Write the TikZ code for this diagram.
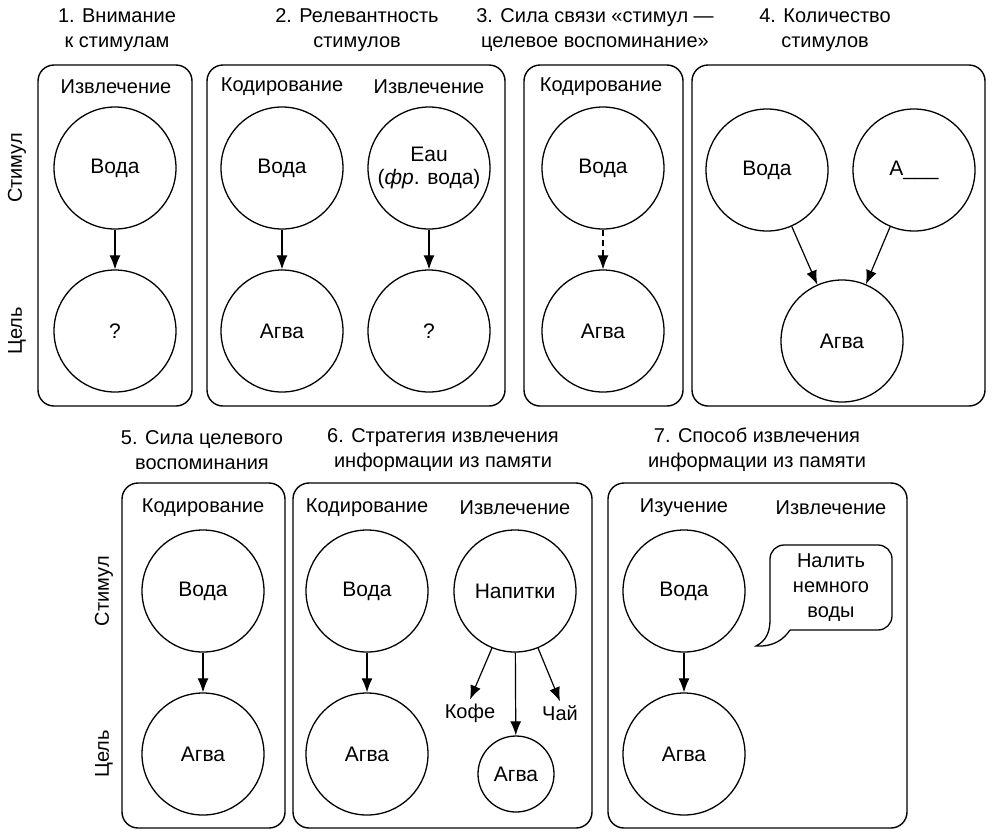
\documentclass[tikz,border=0pt]{standalone}
\usepackage{fontspec}
\setmainfont{Liberation Sans}
\usetikzlibrary{arrows.meta,positioning}
\tikzset{
  panel/.style = {draw, line width=1.4pt, rounded corners=16pt},
  stim/.style  = {circle, draw, line width=1.3pt, minimum size=122pt, inner sep=0pt,
                  align=center, font=\fontsize{21}{23}\selectfont},
  small/.style = {stim, minimum size=76pt},
  head/.style  = {inner sep=1pt, font=\fontsize{20}{24}\selectfont},
  title/.style = {align=center, font=\fontsize{20}{25}\selectfont},
  side/.style  = {rotate=90, font=\fontsize{20}{24}\selectfont},
  link/.style  = {->, line width=1.2pt}
}

\begin{document}
\begin{tikzpicture}[x=1pt, y=-1pt, >={Latex[length=14pt,width=11pt]}]
\useasboundingbox (0,0) rectangle (995,831);

% titles above the panels
\node[title] (ttl1) at (117,30)  {1. Внимание\\к стимулам};
\node[title] (ttl2) at (357,30)  {2. Релевантность\\стимулов};
\node[title] (ttl3) at (595,30)  {3. Сила связи «стимул —\\целевое воспоминание»};
\node[title] (ttl4) at (825,30)  {4. Количество\\стимулов};
\node[title] (ttl5) at (202,450) {5. Сила целевого\\воспоминания};
\node[title] (ttl6) at (443,450) {6. Стратегия извлечения\\информации из памяти};
\node[title] (ttl7) at (757,450) {7. Способ извлечения\\информации из памяти};

% panels
\draw[panel] (38,65)  rectangle (192,406);
\draw[panel] (207,65) rectangle (505,406);
\draw[panel] (524,65) rectangle (683,406);
\draw[panel] (692,65) rectangle (985,406);
\draw[panel] (122,483) rectangle (285,828);
\draw[panel] (293,483) rectangle (592,828);
\draw[panel] (608,483) rectangle (907,828);

% row labels
\node[side] (r1) at (17,168)  {Стимул};
\node[side] (r2) at (17,331)  {Цель};
\node[side] (r3) at (104,591) {Стимул};
\node[side] (r4) at (104,754) {Цель};

% headers
\node[head] (h1)  at (116,87)  {Извлечение};
\node[head] (h2)  at (282,87)  {Кодирование};
\node[head] (h2b) at (429,87)  {Извлечение};
\node[head] (h3)  at (601,87)  {Кодирование};
\node[head] (h5)  at (203,508) {Кодирование};
\node[head] (h6)  at (367,508) {Кодирование};
\node[head] (h6b) at (515,508) {Извлечение};
\node[head] (h7)  at (684,508) {Изучение};
\node[head] (h7b) at (831,508) {Извлечение};

% top row
\node[stim] (c1)  at (115,168) {Вода};
\node[stim] (c11) at (115,331) {?};
\node[stim] (c2)  at (282,168) {Вода};
\node[stim] (c21) at (282,331) {Агва};
\node[stim] (c2b) at (429,168) {Eau\\(\textit{фр}. вода)};
\node[stim] (c2c) at (429,331) {?};
\node[stim] (c3)  at (603,168) {Вода};
\node[stim] (c31) at (603,331) {Агва};
\node[stim] (c4)  at (767,170) {Вода};
\node[stim] (c4b) at (914,170) {А\_\_\_};
\node[stim] (c41) at (842,341) {Агва};

% bottom row
\node[stim] (c5)  at (203,591) {Вода};
\node[stim] (c51) at (203,754) {Агва};
\node[stim] (c6)  at (367,591) {Вода};
\node[stim] (c61) at (367,754) {Агва};
\node[stim] (c6b) at (515,591) {Напитки};
\node[small] (c6c) at (516,774) {Агва};
\node[head, inner sep=4pt] (kofe) at (470,713) {Кофе};
\node[head, inner sep=4pt] (chai) at (560,713) {Чай};
\node[stim] (c7)  at (684,591) {Вода};
\node[stim] (c71) at (684,754) {Агва};

% speech bubble
\node[align=center, font=\fontsize{20}{25}\selectfont] (say) at (831,588) {Налить\\немного\\воды};
\draw[line width=1.3pt, rounded corners=14pt] (790,630) -- (892,630) -- (892,545) -- (770,545) -- (770,606)
  [sharp corners] .. controls (770,632) and (766,641) .. (756,646)
  .. controls (774,647) and (784,639) .. (790,630);

% arrows
\foreach \a/\b in {c1/c11, c2/c21, c2b/c2c, c4/c41, c4b/c41, c5/c51, c6/c61, c6b/c6c, c7/c71}
  \draw[link] (\a) -- (\b);
\draw[link, dash pattern=on 6pt off 4pt] (c3) -- (c31);
\draw[link] (c6b.248) -- (kofe.north);
\draw[link] (c6b.292) -- (chai.north);
\end{tikzpicture}
\end{document}
